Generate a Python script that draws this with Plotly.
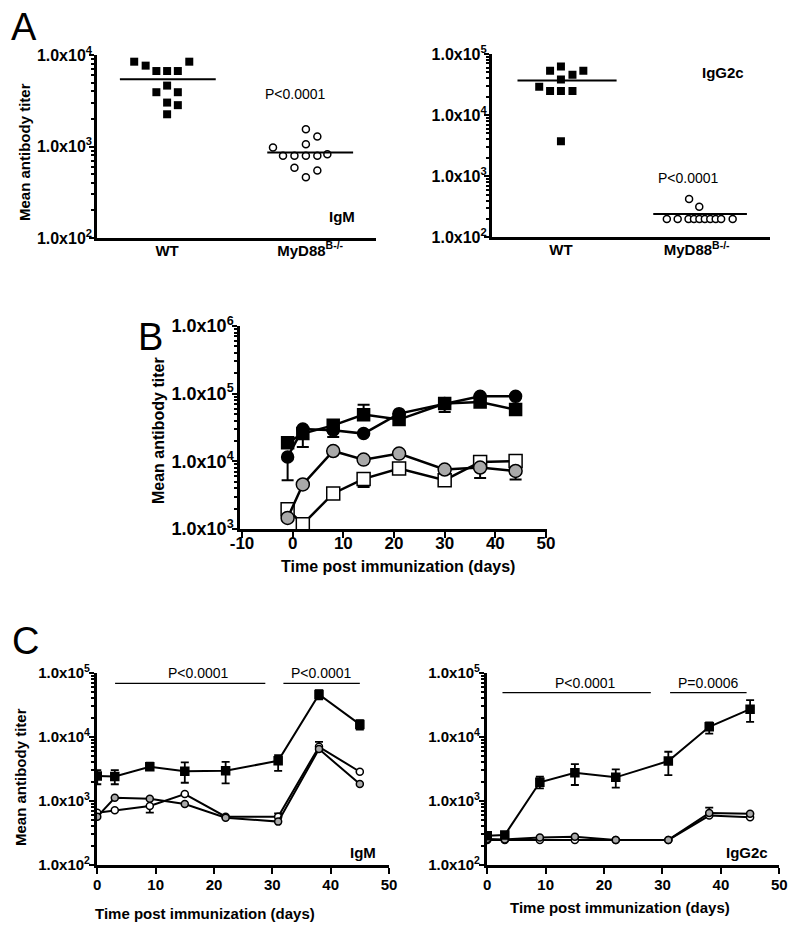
import plotly.graph_objects as go

W, H = 800, 933
FONT = "Arial, Liberation Sans, Helvetica, sans-serif"


def px(x):
    return x / W


def py(y):
    return 1 - y / H


# ---------------- Panel A data ----------------
a_groups = ["<b>WT</b>", "<b>MyD88<sup>B-/-</sup></b>"]

# IgM (left)
igm_wt = [8450, 7650, 6680, 6680, 6680, 8450, 4630, 3920, 3920, 3020, 2830, 2250]
igm_wt_offset = [-0.23, -0.15, -0.075, 0.0, 0.075, 0.155, 0.0, -0.075, 0.075, 0.0, 0.075, 0.0]
igm_ko = [975, 791, 791, 791, 791, 825, 1060, 1545, 1285, 585, 547, 462]
igm_ko_offset = [-0.26, -0.19, -0.11, -0.03, 0.05, 0.12, -0.03, -0.03, 0.05, -0.11, 0.05, -0.03]
igm_means = [5430, 860]

# IgG2c (right)
g_wt = [53200, 62500, 45800, 53200, 38100, 29000, 24700, 24700, 24700, 3720]
g_wt_offset = [-0.08, 0.0, 0.085, 0.165, 0.0, -0.16, -0.08, 0.0, 0.085, 0.0]
g_ko = [200, 200, 200, 200, 200, 200, 200, 200, 200, 200, 425, 315]
g_ko_offset = [-0.22, -0.14, -0.06, -0.02, 0.02, 0.06, 0.10, 0.14, 0.18, 0.265, -0.056, 0.019]
g_means = [36700, 240]

# ---------------- Panel B data ----------------
days_b = [-1, 2, 8, 14, 21, 30, 37, 44]
b_black_circle = [11600, 30100, 28800, 25700, 50700, 71300, 91200, 91200]
b_black_circle_lo = [5260, None, 22900, None, None, 53500, None, None]
b_black_square = [18900, 25700, 34000, 49000, 41400, 71300, 75200, 58100]
b_black_square_lo = [None, 16300, None, None, None, None, None, None]
b_black_square_hi = [None, None, None, 68800, None, None, None, None]
b_grey_circle = [1460, 4550, 14200, 10600, 13000, 7570, 8100, 7210]
b_grey_circle_lo = [None, None, None, None, None, None, 5690, 5400]
b_white_square = [1950, 1180, 3350, 5500, 7830, 5260, 9790, 10100]
b_white_square_lo = [1700, None, None, 4190, None, None, None, None]
b_xticks = [-10, 0, 10, 20, 30, 40, 50]

# ---------------- Panel C data ----------------
days_c = [0, 3, 9, 15, 22, 31, 38, 45]
c_igm_wt = [2440, 2400, 3410, 2890, 2950, 4230, 45700, 15600]
c_igm_wt_hi = [3020, 3020, 3940, 3990, 4070, 5190, 53300, 18200]
c_igm_wt_lo = [1820, 1820, 3030, 1920, 1880, 2950, 38300, 13000]
c_igm_white = [655, 713, 832, 1280, 568, 568, 6980, 2850]
c_igm_white_hi = [None, None, None, None, None, 641, 8360, None]
c_igm_white_lo = [None, None, 655, None, None, None, None, None]
c_igm_grey = [568, 1120, 1080, 895, 547, 475, 6430, 1830]

c_g_wt = [287, 294, 1950, 2750, 2330, 4180, 14300, 27000]
c_g_wt_hi = [None, None, 2380, 3760, 3100, 5840, 16800, 37300]
c_g_wt_lo = [None, None, 1570, 1770, 1610, 2530, 11200, 17100]
c_g_white = [246, 246, 246, 246, 246, 246, 590, 555]
c_g_grey = [255, 250, 268, 277, 246, 246, 650, 630]
c_g_grey_hi = [None, None, None, None, None, None, 783, None]
c_xticks = [0, 10, 20, 30, 40, 50]


def err(vals, hi=None, lo=None, width=5, thick=1.8):
    plus = [0 if (hi is None or hi[i] is None) else hi[i] - v for i, v in enumerate(vals)]
    minus = [0 if (lo is None or lo[i] is None) else v - lo[i] for i, v in enumerate(vals)]
    return dict(type="data", symmetric=False, array=plus, arrayminus=minus,
                color="black", thickness=thick, width=width, visible=True)


fig = go.Figure()


# ---------- Panel A traces ----------
def add_dot_panel(xa, ya, wt, wt_off, ko, ko_off, means, spans):
    fig.add_trace(go.Scatter(
        x=[0 + o for o in wt_off], y=wt, mode="markers", xaxis=xa, yaxis=ya,
        marker=dict(symbol="square", size=8, color="black", line=dict(width=0)),
        showlegend=False))
    fig.add_trace(go.Scatter(
        x=[1 + o for o in ko_off], y=ko, mode="markers", xaxis=xa, yaxis=ya,
        marker=dict(symbol="circle", size=7, color="white", line=dict(width=1.5, color="black")),
        showlegend=False))
    for c, m, (l, r) in zip([0, 1], means, spans):
        fig.add_trace(go.Scatter(
            x=[c + l, c + r], y=[m, m], mode="lines", xaxis=xa, yaxis=ya,
            line=dict(color="black", width=2), showlegend=False))


add_dot_panel("x", "y", igm_wt, igm_wt_offset, igm_ko, igm_ko_offset, igm_means,
              [(-0.33, 0.34), (-0.30, 0.30)])
add_dot_panel("x2", "y2", g_wt, g_wt_offset, g_ko, g_ko_offset, g_means,
              [(-0.32, 0.41), (-0.32, 0.37)])


# ---------- Panel B traces ----------
def line_trace(x, y, xa, ya, symbol, size, fill, e=None, lw=2.5):
    return go.Scatter(
        x=x, y=y, mode="lines+markers", xaxis=xa, yaxis=ya,
        line=dict(color="black", width=lw),
        marker=dict(symbol=symbol, size=size, color=fill,
                    line=dict(width=1.5, color="black")),
        error_y=e, showlegend=False)


fig.add_trace(line_trace(days_b, b_white_square, "x3", "y3", "square", 13, "white",
                         err(b_white_square, None, b_white_square_lo, width=6, thick=2)))
fig.add_trace(line_trace(days_b, b_grey_circle, "x3", "y3", "circle", 13, "#a9a9a9",
                         err(b_grey_circle, None, b_grey_circle_lo, width=6, thick=2)))
fig.add_trace(line_trace(days_b, b_black_square, "x3", "y3", "square", 12, "black",
                         err(b_black_square, b_black_square_hi, b_black_square_lo, width=6, thick=2)))
fig.add_trace(line_trace(days_b, b_black_circle, "x3", "y3", "circle", 12, "black",
                         err(b_black_circle, None, b_black_circle_lo, width=6, thick=2)))

# ---------- Panel C traces ----------
fig.add_trace(line_trace(days_c, c_igm_white, "x4", "y4", "circle", 7, "white",
                         err(c_igm_white, c_igm_white_hi, c_igm_white_lo, width=4), lw=2))
fig.add_trace(line_trace(days_c, c_igm_grey, "x4", "y4", "circle", 7, "#a9a9a9", None, lw=2))
fig.add_trace(line_trace(days_c, c_igm_wt, "x4", "y4", "square", 8, "black",
                         err(c_igm_wt, c_igm_wt_hi, c_igm_wt_lo, width=4), lw=2))

fig.add_trace(line_trace(days_c, c_g_white, "x5", "y5", "circle", 7, "white", None, lw=2))
fig.add_trace(line_trace(days_c, c_g_grey, "x5", "y5", "circle", 7, "#a9a9a9",
                         err(c_g_grey, c_g_grey_hi, None, width=4), lw=2))
fig.add_trace(line_trace(days_c, c_g_wt, "x5", "y5", "square", 8, "black",
                         err(c_g_wt, c_g_wt_hi, c_g_wt_lo, width=4), lw=2))


# ---------- axes ----------
def ylog(lo, hi, top, bottom, anchor, fs, standoff=-3):
    tv = [10 ** k for k in range(lo, hi + 1)]
    tt = [f"<b>1.0x10<sup>{k}</sup></b>" for k in range(lo, hi + 1)]
    mv = [m * 10 ** k for k in range(lo, hi) for m in range(2, 10)]
    return dict(type="log", range=[lo, hi], domain=[py(bottom), py(top)], anchor=anchor,
                showline=True, linewidth=2.5, linecolor="black", mirror=False,
                ticks="outside", ticklen=5, tickwidth=2, tickcolor="black",
                tickmode="array", tickvals=tv, ticktext=tt, ticklabelstandoff=standoff,
                tickfont=dict(size=fs, family=FONT, color="black"),
                minor=dict(tickmode="array", tickvals=mv, ticks="outside", ticklen=3,
                           tickwidth=1.5, tickcolor="black", showgrid=False),
                showgrid=False, zeroline=False, automargin=False, fixedrange=True)


def xlin(rng, left, right, anchor, fs, ticks, standoff=0):
    return dict(range=rng, domain=[px(left), px(right)], anchor=anchor,
                showline=True, linewidth=2.5, linecolor="black",
                ticks="outside", ticklen=6, tickwidth=2, tickcolor="black",
                tickmode="array", tickvals=ticks, ticktext=[f"<b>{t}</b>" for t in ticks],
                ticklabelstandoff=standoff,
                tickfont=dict(size=fs, family=FONT, color="black"),
                showgrid=False, zeroline=False, automargin=False, fixedrange=True)


def xcat(rng, left, right, anchor, fs, standoff=-3):
    return dict(range=rng, domain=[px(left), px(right)], anchor=anchor,
                showline=True, linewidth=2.5, linecolor="black",
                ticks="", tickmode="array", tickvals=[0, 1], ticktext=a_groups,
                ticklabelstandoff=standoff,
                tickfont=dict(size=fs, family=FONT, color="black"),
                showgrid=False, zeroline=False, automargin=False, fixedrange=True)


fig.update_layout(
    width=W, height=H, autosize=False, template="none",
    margin=dict(l=0, r=0, t=0, b=0, pad=0),
    paper_bgcolor="white", plot_bgcolor="rgba(0,0,0,0)",
    font=dict(family=FONT, color="black"),
    showlegend=False,
    xaxis=xcat([-0.49, 1.46], 97, 376, "y", 15),
    yaxis=ylog(2, 4, 55, 238, "x", 16, standoff=-6),
    xaxis2=xcat([-0.51, 1.54], 491.7, 770, "y2", 15),
    yaxis2=ylog(2, 5, 54, 237.3, "x2", 16, standoff=-6),
    xaxis3=xlin([-10.4, 50.1], 240, 546.5, "y3", 17, b_xticks, standoff=-9),
    yaxis3=ylog(3, 6, 326, 529, "x3", 18, standoff=-5),
    xaxis4=xlin([-0.1, 50], 96.7, 389, "y4", 15, c_xticks, standoff=-2),
    yaxis4=ylog(2, 5, 672.7, 865, "x4", 15, standoff=-4),
    xaxis5=xlin([-0.1, 50], 486.7, 779.3, "y5", 15, c_xticks, standoff=-2),
    yaxis5=ylog(2, 5, 672.7, 865, "x5", 15, standoff=-4),
)

# ---------- annotations ----------
ann = []


def text(t, x, y, size, bold=False, angle=0):
    ann.append(dict(text=(f"<b>{t}</b>" if bold else t), x=px(x), y=py(y),
                    xref="paper", yref="paper", xanchor="center", yanchor="middle",
                    showarrow=False, textangle=angle,
                    font=dict(size=size, family=FONT, color="black")))


text("A", 23.5, 27, 38)
text("B", 150, 337, 38)
text("C", 25, 641, 38)

text("P&lt;0.0001", 295, 94, 14)
text("IgM", 342, 217, 15, bold=True)
text("IgG2c", 723, 73, 15, bold=True)
text("P&lt;0.0001", 688, 178, 14)

text("Mean antibody titer", 25, 152, 15, bold=True, angle=-90)
text("Mean antibody titer", 158, 431, 16, bold=True, angle=-90)
text("Mean antibody titer", 20, 777, 15, bold=True, angle=-90)

text("Time post immunization (days)", 398, 566, 16, bold=True)
text("Time post immunization (days)", 205, 913, 15, bold=True)
text("Time post immunization (days)", 620, 907, 15, bold=True)

text("P&lt;0.0001", 198, 673, 14)
text("P&lt;0.0001", 321.7, 673, 14)
text("P&lt;0.0001", 585, 682.5, 14)
text("P=0.0006", 708.3, 682.5, 14)
text("IgM", 363.3, 852.7, 15, bold=True)
text("IgG2c", 746.7, 852.7, 15, bold=True)

fig.update_layout(annotations=ann)

# significance bars
bars = [("x4", 3.05, 28.8, 683.3), ("x4", 31.9, 45.0, 683.3),
        ("x5", 2.6, 28.0, 692.7), ("x5", 31.3, 44.4, 692.7)]
for xa, x0, x1, yy in bars:
    fig.add_shape(type="line", xref=xa, yref="paper", x0=x0, x1=x1, y0=py(yy), y1=py(yy),
                  line=dict(color="black", width=1.3))

fig.write_html("out.html", config={"displayModeBar": False},
               post_script="document.body.style.margin='0px';document.body.style.overflow='hidden';")
